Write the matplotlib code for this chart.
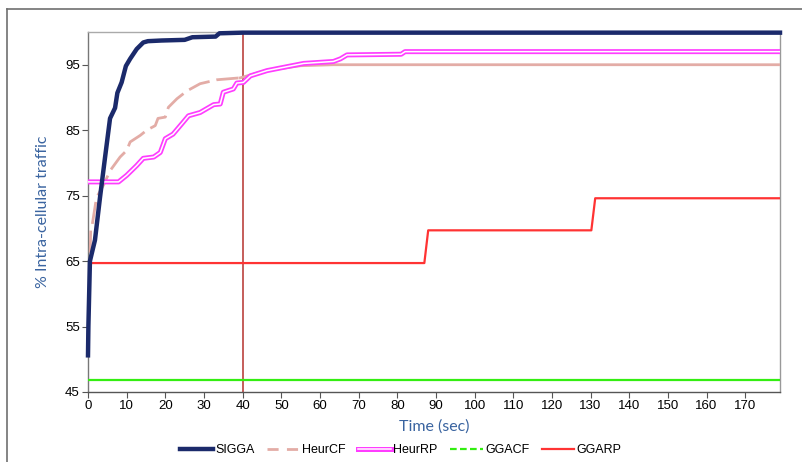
import numpy as np
import matplotlib
matplotlib.use('Agg')
import matplotlib.pyplot as plt
from matplotlib.lines import Line2D

plt.rcParams['font.family'] = ['Liberation Sans', 'DejaVu Sans']

# Datos
sigga_t = [0, 0.1, 0.5, 1.8, 3.1, 4.4, 5.7, 7, 7.6, 8.7, 9.8, 10.9, 12.6, 14.3,
           15.5, 19, 25, 27, 33, 34, 40, 179]
sigga_v = [50.6, 55, 65, 68.2, 74.7, 80.8, 86.8, 88.4, 90.7, 92.3, 94.8, 95.9,
           97.4, 98.4, 98.6, 98.7, 98.8, 99.2, 99.3, 99.8, 99.9, 99.9]

heurcf_t = [0, 0.7, 1, 2.2, 4, 5.7, 8.3, 10, 10.9, 13.5, 15.2, 17.4, 18.1, 20,
            20.8, 23, 25.6, 29, 33.3, 39.4, 46, 55, 63.5, 179]
heurcf_v = [52.9, 69.7, 70.2, 74.7, 76.6, 78.8, 80.9, 81.9, 83.2, 84.2, 85, 85.7,
            86.8, 87, 88.5, 89.8, 91, 92.1, 92.7, 93, 94.1, 94.85, 95, 95]

heurrp_t = [0, 7.9, 10, 12.6, 14.3, 17, 18.7, 20, 22, 24.3, 26, 29, 32.5, 34.2,
            35, 37.6, 38.5, 40.2, 42, 46.3, 50.6, 55.8, 63.5, 65.3, 67, 81, 82, 179]
heurrp_v = [77.1, 77.1, 78.1, 79.6, 80.7, 80.9, 81.6, 83.7, 84.4, 86, 87.2, 87.7,
            88.9, 89, 90.8, 91.3, 92.2, 92.3, 93.3, 94.1, 94.6, 95.2, 95.5, 95.9,
            96.5, 96.6, 97, 97]

ggacf_t = [0, 179]
ggacf_v = [46.8, 46.8]

ggarp_t = [0, 87, 88, 130.2, 131.2, 179]
ggarp_v = [64.7, 64.7, 69.7, 69.7, 74.6, 74.6]

marker_time = 40

c_sigga = '#1B2A6B'
c_cf = '#E3ACA6'
c_rp = '#FF3DFF'
c_gcf = '#33EE11'
c_grp = '#FF3333'
c_axlab = '#3A64A0'

fig = plt.figure(figsize=(8.03, 4.62), dpi=100)
ax = fig.add_axes([88/803, 1-392/462, (780-88)/803, (392-32)/462])

# marco exterior
fig.add_artist(Line2D([7/803, 7/803], [0, 1-9/462], transform=fig.transFigure,
                      color='#707070', lw=1.2))
fig.add_artist(Line2D([7/803, 1], [1-9/462, 1-9/462], transform=fig.transFigure,
                      color='#707070', lw=1.2))

ax.axvline(marker_time, color='#C0504D', lw=1.3, zorder=2)

ax.plot(ggacf_t, ggacf_v, color=c_gcf, lw=1.6, zorder=3)
ax.plot(ggarp_t, ggarp_v, color=c_grp, lw=1.6, zorder=3)

# HeurCF: tramo de subida discontinuo, tramo final continuo
n_dash = 19
ax.plot(heurcf_t[:n_dash + 1], heurcf_v[:n_dash + 1], color=c_cf, lw=2.0,
        ls=(0, (8, 2.5)), zorder=4)
ax.plot(heurcf_t[n_dash:], heurcf_v[n_dash:], color=c_cf, lw=2.0, zorder=4)

ax.plot(heurrp_t, heurrp_v, color=c_rp, lw=3.6, zorder=5)
ax.plot(heurrp_t, heurrp_v, color='white', lw=1.1, zorder=6)
ax.plot(sigga_t, sigga_v, color=c_sigga, lw=3.2, zorder=7, clip_on=False)

ax.set_xlim(0, 179)
ax.set_ylim(45, 100)
ax.set_xticks(np.arange(0, 180, 10))
ax.set_yticks(np.arange(45, 100, 10))
ax.tick_params(axis='both', direction='out', length=4, width=0.8,
               labelsize=9.5, color='#555555', pad=2)

ax.spines['left'].set_color('#777777')
ax.spines['bottom'].set_color('#555555')
ax.spines['top'].set_color('#AAAAAA')
ax.spines['right'].set_color('#999999')
for s in ax.spines.values():
    s.set_linewidth(1.0)

ax.set_xlabel('Time (sec)', family=['Lato', 'DejaVu Sans'], fontsize=11.5,
              color=c_axlab, labelpad=5)
ax.set_ylabel('% Intra-cellular traffic', family=['Lato', 'DejaVu Sans'],
              fontsize=11.5, color=c_axlab, labelpad=11)

h_sigga = Line2D([], [], color=c_sigga, lw=3.2)
h_cf = Line2D([], [], color=c_cf, lw=2.0, ls=(0, (4, 3)))
h_rp = (Line2D([], [], color=c_rp, lw=3.6), Line2D([], [], color='white', lw=1.1))
h_gcf = Line2D([], [], color=c_gcf, lw=1.6, ls=(0, (3, 1.5)))
h_grp = Line2D([], [], color=c_grp, lw=1.6)
fig.legend([h_sigga, h_cf, h_rp, h_gcf, h_grp],
           ['SIGGA', 'HeurCF', 'HeurRP', 'GGACF', 'GGARP'],
           loc='center', bbox_to_anchor=(401/803, 1-450/462), ncol=5,
           frameon=False, fontsize=9, handlelength=2.6, handletextpad=0.2,
           columnspacing=1.0)

plt.savefig('out.png', dpi=100)
